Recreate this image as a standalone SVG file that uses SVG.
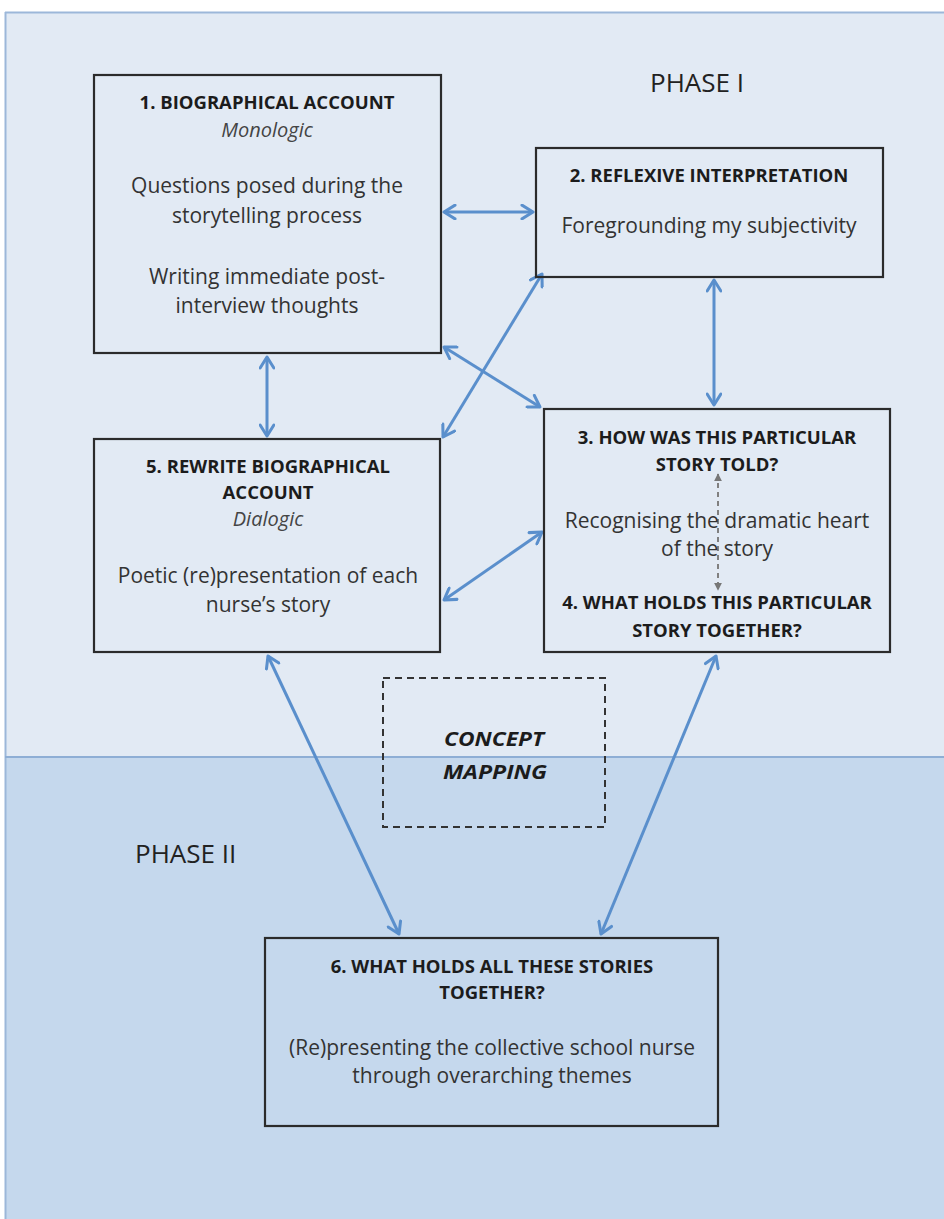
<svg xmlns="http://www.w3.org/2000/svg" width="944" height="1219" viewBox="0 0 944 1219">
<style>
.box{fill:none;stroke:#2b2b2b;stroke-width:2.2}
.t{font-family:"Open Sans","Liberation Sans",Arial,sans-serif;fill:#1c1c1c;text-anchor:middle;font-weight:bold;font-size:18.5px}
.b{font-family:"Open Sans","Liberation Sans",Arial,sans-serif;fill:#333;text-anchor:middle;font-size:21px}
.i{font-family:"Open Sans","Liberation Sans",Arial,sans-serif;fill:#444;text-anchor:middle;font-style:italic;font-size:20px}
.ph{font-family:"Open Sans","Liberation Sans",Arial,sans-serif;fill:#222;font-size:26px}
.cm{font-family:"Open Sans","Liberation Sans",Arial,sans-serif;fill:#1c1c1c;text-anchor:middle;font-weight:bold;font-style:italic;font-size:20px}
.con{stroke:#5a8fcc;stroke-width:3;fill:none;marker-start:url(#ah);marker-end:url(#ah)}
</style>
<defs>
<marker id="ah" viewBox="0 0 12 12" refX="10" refY="6" markerWidth="5.5" markerHeight="5.5" orient="auto-start-reverse" markerUnits="strokeWidth">
<path d="M2,1 L10,6 L2,11" fill="none" stroke="#5a8fcc" stroke-width="2.2" stroke-linecap="round" stroke-linejoin="round"/>
</marker>
<marker id="gh" viewBox="0 0 10 10" refX="9" refY="5" markerWidth="4" markerHeight="4" orient="auto-start-reverse" markerUnits="strokeWidth">
<path d="M0,0 L10,5 L0,10 Z" fill="#777"/>
</marker>
</defs>
<rect x="0" y="0" width="944" height="1219" fill="#ffffff"/>
<g id="background">
<rect x="5" y="12" width="945" height="745" fill="#e2eaf4"/>
<rect x="5" y="757" width="945" height="470" fill="#c5d8ed"/>
<line x1="5" y1="12.5" x2="944" y2="12.5" stroke="#9cb7d9" stroke-width="2"/>
<line x1="5.5" y1="12" x2="5.5" y2="1219" stroke="#9cb7d9" stroke-width="2"/>
<line x1="5" y1="757" x2="944" y2="757" stroke="#8eaed5" stroke-width="2"/>
<text class="ph" x="650" y="92">PHASE I</text>
<text class="ph" x="135" y="863">PHASE II</text>
</g>
<g id="connectors">
<line class="con" x1="444" y1="212" x2="533" y2="212"/>
<line class="con" x1="267" y1="357" x2="267" y2="436"/>
<line class="con" x1="714" y1="280" x2="714" y2="405"/>
<line class="con" x1="444" y1="347" x2="540" y2="407"/>
<line class="con" x1="542" y1="274" x2="443" y2="437"/>
<line class="con" x1="444" y1="600" x2="542" y2="532"/>
<line class="con" x1="268" y1="656" x2="399" y2="934"/>
<line class="con" x1="716" y1="656" x2="601" y2="934"/>
<line x1="718" y1="474" x2="718" y2="590" stroke="#808080" stroke-width="2" stroke-dasharray="5,4" marker-start="url(#gh)" marker-end="url(#gh)"/>
</g>
<g id="node1">
<rect class="box" x="94" y="75" width="347" height="278"/>
<text class="t" x="267" y="109">1. BIOGRAPHICAL ACCOUNT</text>
<text class="i" x="267" y="137">Monologic</text>
<text class="b" x="267" y="193">Questions posed during the</text>
<text class="b" x="267" y="223">storytelling process</text>
<text class="b" x="267" y="284">Writing immediate post-</text>
<text class="b" x="267" y="313">interview thoughts</text>
</g>
<g id="node2">
<rect class="box" x="536" y="148" width="347" height="129"/>
<text class="t" x="709" y="182">2. REFLEXIVE INTERPRETATION</text>
<text class="b" x="709" y="233">Foregrounding my subjectivity</text>
</g>
<g id="node3">
<rect class="box" x="544" y="409" width="346" height="243"/>
<text class="t" x="717" y="444">3. HOW WAS THIS PARTICULAR</text>
<text class="t" x="717" y="471">STORY TOLD?</text>
<text class="b" x="717" y="528">Recognising the dramatic heart</text>
<text class="b" x="717" y="556">of the story</text>
<text class="t" x="717" y="609">4. WHAT HOLDS THIS PARTICULAR</text>
<text class="t" x="717" y="637">STORY TOGETHER?</text>
</g>
<g id="node5">
<rect class="box" x="94" y="439" width="346" height="213"/>
<text class="t" x="268" y="473">5. REWRITE BIOGRAPHICAL</text>
<text class="t" x="268" y="499">ACCOUNT</text>
<text class="i" x="268" y="526">Dialogic</text>
<text class="b" x="268" y="583">Poetic (re)presentation of each</text>
<text class="b" x="268" y="612">nurse’s story</text>
</g>
<g id="concept">
<rect x="383" y="678" width="222" height="149" fill="none" stroke="#333" stroke-width="2" stroke-dasharray="7,5"/>
<text class="cm" x="494" y="746" textLength="100" lengthAdjust="spacingAndGlyphs">CONCEPT</text>
<text class="cm" x="495" y="779" textLength="104" lengthAdjust="spacingAndGlyphs">MAPPING</text>
</g>
<g id="node6">
<rect class="box" x="265" y="938" width="453" height="188"/>
<text class="t" x="492" y="973">6. WHAT HOLDS ALL THESE STORIES</text>
<text class="t" x="492" y="999">TOGETHER?</text>
<text class="b" x="492" y="1055">(Re)presenting the collective school nurse</text>
<text class="b" x="492" y="1083">through overarching themes</text>
</g>
</svg>
